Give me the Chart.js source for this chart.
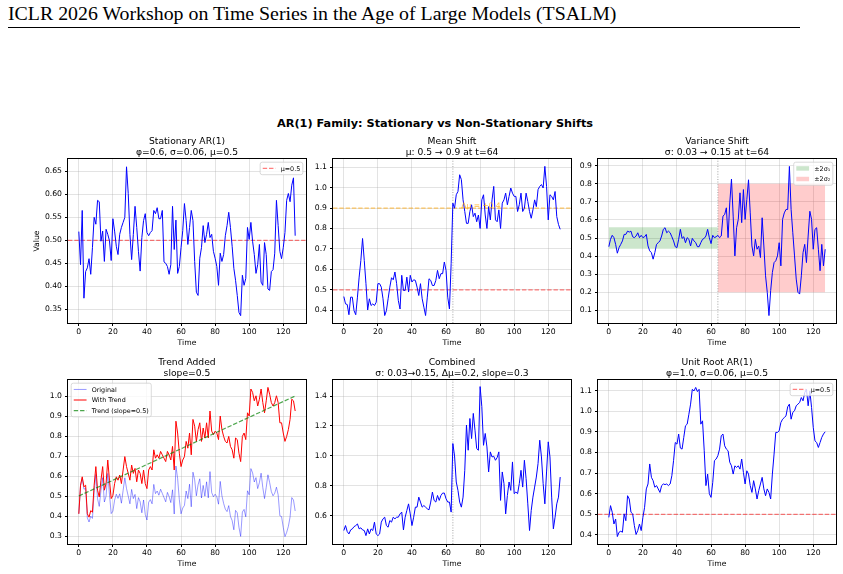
<!DOCTYPE html>
<html>
<head>
<meta charset="utf-8">
<script src="https://cdn.jsdelivr.net/npm/chart.js@4.4.1/dist/chart.umd.min.js"></script>
<style>
  body { margin: 0; background: #fff; width: 843px; height: 574px; position: relative; overflow: hidden; }
  #header { position: absolute; left: 8px; top: 2px; font-family: "Liberation Serif", serif; font-size: 19.85px; color: #000; white-space: nowrap; }
  #rule { position: absolute; left: 8px; top: 27px; width: 792px; border-top: 1px solid #000; }
  #suptitle { position: absolute; left: 0; width: 870px; top: 117px; text-align: center; font-family: "DejaVu Sans", sans-serif; font-weight: bold; font-size: 11.3px; color: #000; }
  canvas { position: absolute; }
</style>
</head>
<body>
<div id="header">ICLR 2026 Workshop on Time Series in the Age of Large Models (TSALM)</div>
<div id="rule"></div>
<div id="suptitle">AR(1) Family: Stationary vs Non-Stationary Shifts</div>
<canvas id="c1"></canvas>
<canvas id="c2"></canvas>
<canvas id="c3"></canvas>
<canvas id="c4"></canvas>
<canvas id="c5"></canvas>
<canvas id="c6"></canvas>
<script>
const FONT = '"DejaVu Sans", sans-serif'

// time steps 0..127
const time = Array.from({length: 128}, (_, i) => i)

const stationary = [
  0.519,0.447,0.565,0.374,0.432,0.44,0.46,0.426,0.484,0.55,
  0.535,0.587,0.584,0.498,0.52,0.454,0.524,0.513,0.499,0.456,
  0.547,0.52,0.487,0.469,0.513,0.528,0.539,0.55,0.66,0.602,
  0.513,0.458,0.513,0.574,0.528,0.476,0.433,0.506,0.543,0.558,
  0.517,0.51,0.517,0.521,0.565,0.558,0.571,0.547,0.547,0.565,
  0.453,0.45,0.443,0.426,0.447,0.574,0.48,0.544,0.428,0.443,
  0.484,0.521,0.58,0.543,0.491,0.528,0.565,0.543,0.454,0.387,
  0.38,0.461,0.484,0.532,0.495,0.513,0.539,0.506,0.513,0.476,
  0.461,0.443,0.402,0.472,0.454,0.469,0.51,0.532,0.561,0.528,
  0.487,0.439,0.413,0.38,0.343,0.336,0.424,0.402,0.417,0.528,
  0.502,0.539,0.498,0.469,0.428,0.447,0.491,0.409,0.402,0.495,
  0.469,0.394,0.391,0.432,0.436,0.472,0.587,0.532,0.476,0.46,
  0.484,0.517,0.587,0.602,0.584,0.62,0.636,0.51]

const meanShift = [
  0.467,0.431,0.428,0.378,0.464,0.464,0.398,0.378,0.464,0.562,
  0.644,0.751,0.644,0.53,0.401,0.456,0.423,0.431,0.423,0.439,
  0.53,0.53,0.513,0.456,0.374,0.398,0.456,0.513,0.559,0.549,
  0.587,0.53,0.447,0.406,0.571,0.497,0.497,0.562,0.489,0.571,
  0.538,0.549,0.546,0.513,0.472,0.53,0.456,0.415,0.374,0.464,
  0.554,0.546,0.521,0.521,0.546,0.595,0.554,0.579,0.579,0.636,
  0.595,0.464,0.406,0.628,0.924,0.899,0.965,0.981,1.063,1.039,
  0.94,0.883,0.825,0.825,0.883,0.916,0.858,0.875,0.833,0.866,
  0.8,0.94,0.965,0.866,0.8,0.907,0.842,0.94,1.006,0.842,
  0.833,0.891,0.8,0.924,0.94,0.973,0.916,0.957,0.998,0.973,
  0.957,0.957,0.883,0.916,0.973,0.883,0.899,0.973,0.932,0.883,
  0.85,0.891,0.94,0.907,0.99,1.006,1.015,0.998,1.104,1.006,
  0.842,0.965,0.957,0.94,0.981,0.858,0.82,0.796]

const varianceShift = [
  0.452,0.493,0.515,0.502,0.465,0.416,0.447,0.465,0.484,0.52,
  0.52,0.538,0.533,0.538,0.507,0.502,0.511,0.529,0.502,0.515,
  0.502,0.507,0.52,0.456,0.429,0.419,0.383,0.419,0.465,0.474,
  0.484,0.511,0.548,0.557,0.529,0.538,0.529,0.507,0.484,0.452,
  0.447,0.493,0.548,0.498,0.507,0.474,0.502,0.493,0.456,0.498,
  0.484,0.474,0.452,0.452,0.474,0.493,0.498,0.511,0.548,0.502,
  0.469,0.515,0.502,0.507,0.515,0.502,0.511,0.621,0.63,0.667,
  0.502,0.694,0.826,0.621,0.401,0.557,0.603,0.75,0.585,0.768,
  0.603,0.712,0.822,0.639,0.456,0.401,0.493,0.438,0.456,0.392,
  0.612,0.456,0.291,0.2,0.071,0.209,0.309,0.364,0.374,0.401,
  0.474,0.346,0.603,0.639,0.658,0.658,0.896,0.658,0.529,0.401,
  0.273,0.2,0.19,0.291,0.419,0.465,0.364,0.511,0.648,0.603,
  0.438,0.548,0.557,0.438,0.319,0.465,0.346,0.438]

const original = [
  0.411,0.550,0.588,0.534,0.538,0.391,0.370,0.399,0.388,0.519,
  0.608,0.486,0.448,0.528,0.592,0.470,0.499,0.613,0.508,0.412,
  0.424,0.479,0.509,0.488,0.511,0.464,0.528,0.591,0.537,0.499,
  0.461,0.533,0.487,0.508,0.437,0.492,0.471,0.416,0.480,0.408,
  0.380,0.469,0.482,0.461,0.558,0.512,0.525,0.504,0.534,0.513,
  0.492,0.471,0.518,0.497,0.467,0.531,0.410,0.650,0.587,0.482,
  0.411,0.440,0.453,0.525,0.487,0.559,0.446,0.619,0.581,0.501,
  0.556,0.586,0.490,0.553,0.499,0.571,0.491,0.622,0.517,0.496,
  0.509,0.496,0.459,0.573,0.501,0.463,0.434,0.422,0.452,0.398,
  0.377,0.331,0.428,0.416,0.344,0.298,0.420,0.433,0.396,0.526,
  0.506,0.637,0.616,0.570,0.592,0.537,0.567,0.614,0.542,0.487,
  0.543,0.606,0.568,0.522,0.501,0.514,0.544,0.506,0.401,0.397,
  0.343,0.297,0.318,0.348,0.395,0.492,0.480,0.425]

const withTrend = [
  0.411,0.554,0.596,0.546,0.554,0.411,0.394,0.427,0.419,0.554,
  0.647,0.529,0.495,0.579,0.647,0.529,0.562,0.68,0.579,0.487,
  0.503,0.562,0.596,0.579,0.605,0.562,0.63,0.697,0.647,0.613,
  0.579,0.655,0.613,0.638,0.571,0.63,0.613,0.562,0.63,0.562,
  0.537,0.63,0.647,0.63,0.731,0.689,0.706,0.689,0.723,0.706,
  0.689,0.672,0.723,0.706,0.68,0.748,0.63,0.874,0.815,0.714,
  0.647,0.68,0.697,0.773,0.739,0.815,0.706,0.883,0.849,0.773,
  0.832,0.866,0.773,0.84,0.79,0.866,0.79,0.925,0.824,0.807,
  0.824,0.815,0.782,0.9,0.832,0.798,0.773,0.765,0.798,0.748,
  0.731,0.689,0.79,0.782,0.714,0.672,0.798,0.815,0.782,0.916,
  0.9,1.035,1.018,0.976,1.001,0.95,0.984,1.035,0.967,0.916,
  0.976,1.043,1.009,0.967,0.95,0.967,1.001,0.967,0.866,0.866,
  0.815,0.773,0.798,0.832,0.883,0.984,0.976,0.925]

const combined = [
  0.502,0.535,0.495,0.479,0.506,0.513,0.528,0.535,0.546,0.513,
  0.52,0.506,0.502,0.468,0.513,0.479,0.513,0.502,0.558,0.479,
  0.468,0.479,0.558,0.58,0.591,0.535,0.524,0.569,0.558,0.591,
  0.58,0.591,0.591,0.613,0.625,0.506,0.591,0.636,0.68,0.613,
  0.535,0.591,0.658,0.658,0.725,0.692,0.658,0.669,0.658,0.647,
  0.64,0.692,0.759,0.703,0.692,0.736,0.703,0.736,0.752,0.752,
  0.714,0.692,0.692,0.625,1.083,1.0,0.826,0.77,0.692,0.658,
  0.725,0.904,1.206,1.038,1.25,1.116,1.284,1.172,1.049,1.038,
  1.463,1.329,1.071,1.15,1.06,0.893,1.027,0.993,0.998,0.971,
  0.989,1.027,0.703,0.893,0.815,0.613,0.736,0.826,0.77,0.96,
  0.748,0.759,0.748,0.815,0.904,0.792,0.971,0.848,0.68,0.502,
  0.636,0.725,0.792,0.859,0.949,1.105,0.993,0.815,0.68,0.893,
  1.094,0.993,0.725,0.513,0.591,0.68,0.725,0.859]

const unitRoot = [
  0.485,0.542,0.51,0.453,0.477,0.392,0.413,0.418,0.413,0.502,
  0.469,0.59,0.574,0.51,0.502,0.445,0.402,0.421,0.453,0.421,
  0.485,0.534,0.623,0.647,0.744,0.679,0.663,0.631,0.639,0.623,
  0.606,0.639,0.647,0.644,0.647,0.639,0.647,0.687,0.76,0.848,
  0.84,0.889,0.821,0.816,0.873,0.929,0.937,0.985,1.034,1.106,
  1.098,1.115,1.095,1.106,0.937,0.953,0.808,0.639,0.695,0.6,
  0.582,0.655,0.76,0.768,0.784,0.816,0.881,0.889,0.832,0.816,
  0.808,0.752,0.735,0.695,0.735,0.727,0.735,0.719,0.768,0.703,
  0.647,0.711,0.695,0.639,0.606,0.663,0.623,0.574,0.615,0.647,
  0.679,0.623,0.59,0.623,0.606,0.574,0.695,0.792,0.897,0.897,
  0.905,0.945,0.961,0.969,0.977,1.021,1.034,0.961,0.994,1.002,
  1.026,1.034,1.042,1.066,1.05,1.09,1.106,1.026,1.098,1.018,
  0.921,0.856,0.848,0.824,0.848,0.873,0.889,0.9]

// reference levels
const muLevel = 0.5
const shiftedLevel = 0.9
const shiftTime = 64
const trendEnds = [0.5, 1.0]          // trend line value at t=0 and t=127
const sigma1Band = [0.44, 0.56]       // mu +- 2*0.03
const sigma2Band = [0.2, 0.8]         // mu +- 2*0.15
const xTicks = [0, 20, 40, 60, 80, 100, 120]

const X_MIN = -6.35, X_MAX = 133.35
const GRID = 'rgba(176,176,176,0.35)'

const pts = ys => ys.map((y, i) => ({x: time[i], y}))
const hline = y => [{x: X_MIN, y}, {x: X_MAX, y}]
const vline = (x, lo, hi) => [{x, y: lo}, {x, y: hi}]

// black box round the plot area
const framePlugin = {
    id: 'frame',
    afterDraw(chart) {
        const {ctx, chartArea: a} = chart
        ctx.save()
        ctx.strokeStyle = '#000'
        ctx.lineWidth = 1
        ctx.strokeRect(Math.round(a.left) - 0.5, Math.round(a.top) - 0.5, Math.round(a.width) + 1, Math.round(a.height) + 1)
        ctx.restore()
    }
}

// matplotlib style legend drawn inside the axes
function legendPlugin(items, corner) {
    return {
        id: 'mplLegend',
        afterDraw(chart) {
            if (!items) return
            const {ctx, chartArea: a} = chart
            const fs = 6.4
            const pad = 0.4 * fs, hl = 2 * fs, tp = 0.8 * fs, sp = 0.5 * fs, ax = 0.5 * fs, rowH = fs * 1.15
            ctx.save()
            ctx.font = fs + 'px ' + FONT
            const tw = Math.max(...items.map(it => ctx.measureText(chart.data.datasets[it.ds].label).width))
            const w = 2 * pad + hl + tp + tw
            const h = 2 * pad + items.length * rowH + (items.length - 1) * sp
            const x = corner === 'ul' ? a.left + ax : a.right - ax - w
            const y = a.top + ax
            ctx.fillStyle = 'rgba(255,255,255,0.8)'
            ctx.strokeStyle = 'rgba(204,204,204,0.9)'
            ctx.lineWidth = 0.8
            ctx.beginPath()
            ctx.roundRect(x, y, w, h, 2)
            ctx.fill()
            ctx.stroke()
            items.forEach((it, i) => {
                const ds = chart.data.datasets[it.ds]
                const cy = y + pad + i * (rowH + sp) + rowH / 2
                if (it.patch) {
                    ctx.fillStyle = ds.backgroundColor
                    ctx.fillRect(x + pad, cy - 0.35 * fs, hl, 0.7 * fs)
                } else {
                    ctx.strokeStyle = ds.borderColor
                    ctx.lineWidth = ds.borderWidth
                    ctx.setLineDash(ds.borderDash || [])
                    ctx.beginPath()
                    ctx.moveTo(x + pad, cy)
                    ctx.lineTo(x + pad + hl, cy)
                    ctx.stroke()
                    ctx.setLineDash([])
                }
                ctx.fillStyle = '#000'
                ctx.textBaseline = 'middle'
                ctx.fillText(ds.label, x + pad + hl + tp, cy + 0.5)
            })
            ctx.restore()
        }
    }
}

// text placed at data coordinates
function notePlugin(note) {
    return {
        id: 'note',
        afterDraw(chart) {
            if (!note) return
            const {ctx, scales} = chart
            ctx.save()
            ctx.font = note.size + 'px ' + FONT
            ctx.fillStyle = note.color
            ctx.textAlign = 'left'
            ctx.textBaseline = 'alphabetic'
            ctx.fillText(note.text, scales.x.getPixelForValue(note.x), scales.y.getPixelForValue(note.y))
            ctx.restore()
        }
    }
}

function makeChart(id, left, top, p) {
    const canvas = document.getElementById(id)
    const W = 238, H = 164
    canvas.width = 50 + W + 8
    canvas.height = 35 + H + 30
    canvas.style.left = (left - 50) + 'px'
    canvas.style.top = (top - 35) + 'px'
    const tickFont = {family: FONT, size: 7.7}
    return new Chart(canvas, {
        type: 'line',
        data: {datasets: p.datasets},
        options: {
            responsive: false,
            animation: false,
            events: [],
            layout: {padding: {top: 11.92, right: 8, bottom: 0, left: 0}},
            elements: {point: {radius: 0}, line: {tension: 0}},
            plugins: {
                legend: {display: false},
                tooltip: {enabled: false},
                title: {
                    display: true, text: p.title, fullSize: false, color: '#000',
                    font: {family: FONT, size: 9.2, weight: 'normal', lineHeight: 1.2},
                    padding: {top: 0, bottom: 1}
                }
            },
            scales: {
                x: {
                    type: 'linear', min: X_MIN, max: X_MAX,
                    afterBuildTicks: s => { s.ticks = xTicks.map(v => ({value: v})) },
                    ticks: {font: tickFont, color: '#000', padding: 1, maxRotation: 0, autoSkip: false},
                    grid: {color: GRID, tickColor: '#000', tickLength: 3},
                    border: {display: false},
                    title: {display: true, text: 'Time', color: '#000', font: tickFont, padding: {top: 0, bottom: 5.4}},
                    afterFit: s => { s.height = 30 }
                },
                y: {
                    min: p.yMin, max: p.yMax,
                    ticks: {
                        font: tickFont, color: '#000', padding: 3, stepSize: p.yStep, includeBounds: false,
                        callback: v => v.toFixed(p.yDec)
                    },
                    grid: {color: GRID, tickColor: '#000', tickLength: 3},
                    border: {display: false},
                    title: {display: !!p.yTitle, text: p.yTitle || '', color: '#000', font: tickFont, padding: {top: 14.4, bottom: 0}},
                    afterFit: s => { s.width = 50 }
                }
            }
        },
        plugins: [framePlugin, legendPlugin(p.legend, p.corner), notePlugin(p.note)]
    })
}

const blueLine = data => ({label: 'series', data, borderColor: 'blue', borderWidth: 1, fill: false})
const refLine = (label, data, color, dash) => ({label, data, borderColor: color, borderWidth: 1.2, borderDash: dash, fill: false})
const band = (label, lo, hi, x0, x1, color) => ({
    label, data: [{x: x0, y: hi}, {x: x1, y: hi}], borderWidth: 0, borderColor: 'rgba(0,0,0,0)',
    backgroundColor: color, fill: {value: lo}
})

makeChart('c1', 68, 159, {
    title: ['Stationary AR(1)', 'φ=0.6, σ=0.06, μ=0.5'],
    yMin: 0.32, yMax: 0.677, yStep: 0.05, yDec: 2, yTitle: 'Value',
    datasets: [
        blueLine(pts(stationary)),
        refLine('μ=0.5', hline(muLevel), 'rgba(255,0,0,0.5)', [4.4, 1.9])
    ],
    legend: [{ds: 1}], corner: 'ur'
})

makeChart('c2', 333, 159, {
    title: ['Mean Shift', 'μ: 0.5 → 0.9 at t=64'],
    yMin: 0.3375, yMax: 1.14, yStep: 0.1, yDec: 1,
    datasets: [
        blueLine(pts(meanShift)),
        refLine('mu0', hline(muLevel), 'rgba(255,0,0,0.5)', [4.4, 1.9]),
        refLine('mu1', hline(shiftedLevel), 'rgba(255,165,0,0.6)', [4.4, 1.9]),
        refLine('shift', vline(shiftTime, 0.3375, 1.14), 'rgba(128,128,128,0.6)', [1, 1.6])
    ],
    note: {x: 69, y: shiftedLevel, text: 'Δμ = +0.4', color: 'rgba(255,165,0,0.75)', size: 7.5}
})

makeChart('c3', 598, 159, {
    title: ['Variance Shift', 'σ: 0.03 → 0.15 at t=64'],
    yMin: 0.03, yMax: 0.937, yStep: 0.1, yDec: 1,
    datasets: [
        blueLine(pts(varianceShift)),
        refLine('shift', vline(shiftTime, 0.03, 0.937), 'rgba(128,128,128,0.6)', [1, 1.6]),
        band('±2σ₁', sigma1Band[0], sigma1Band[1], 0, shiftTime, 'rgba(0,128,0,0.2)'),
        band('±2σ₂', sigma2Band[0], sigma2Band[1], shiftTime, 127, 'rgba(255,0,0,0.2)')
    ],
    legend: [{ds: 2, patch: true}, {ds: 3, patch: true}], corner: 'ur'
})

makeChart('c4', 68, 380, {
    title: ['Trend Added', 'slope=0.5'],
    yMin: 0.26, yMax: 1.08, yStep: 0.1, yDec: 1,
    datasets: [
        {label: 'Original', data: pts(original), borderColor: 'rgba(0,0,255,0.4)', borderWidth: 1, fill: false, order: 3},
        {label: 'With Trend', data: pts(withTrend), borderColor: 'red', borderWidth: 1, fill: false, order: 2},
        {label: 'Trend (slope=0.5)', data: [{x: 0, y: trendEnds[0]}, {x: 127, y: trendEnds[1]}],
         borderColor: 'rgba(0,128,0,0.7)', borderWidth: 1.2, borderDash: [4.4, 1.9], fill: false, order: 1}
    ],
    legend: [{ds: 0}, {ds: 1}, {ds: 2}], corner: 'ul'
})

makeChart('c5', 333, 380, {
    title: ['Combined', 'σ: 0.03→0.15, Δμ=0.2, slope=0.3'],
    yMin: 0.412, yMax: 1.507, yStep: 0.2, yDec: 1,
    datasets: [
        blueLine(pts(combined)),
        refLine('shift', vline(shiftTime, 0.412, 1.507), 'rgba(128,128,128,0.6)', [1, 1.6])
    ]
})

makeChart('c6', 598, 380, {
    title: ['Unit Root AR(1)', 'φ=1.0, σ=0.06, μ=0.5'],
    yMin: 0.356, yMax: 1.151, yStep: 0.1, yDec: 1,
    datasets: [
        blueLine(pts(unitRoot)),
        refLine('μ=0.5', hline(muLevel), 'rgba(255,0,0,0.5)', [4.4, 1.9])
    ],
    legend: [{ds: 1}], corner: 'ur'
})
</script>
</body>
</html>
